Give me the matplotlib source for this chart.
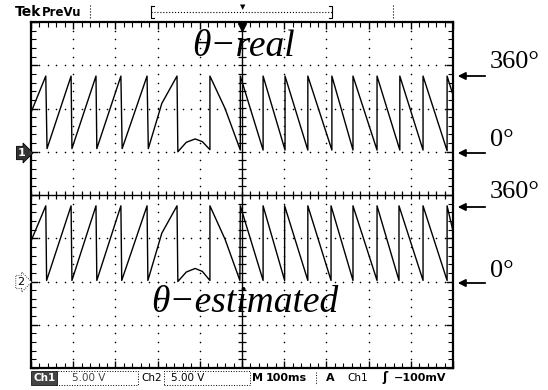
import matplotlib.pyplot as plt
import numpy as np

# time in ms (100 ms/div), phase angle in degrees
ch1_t = [0, 35, 38, 95, 97, 154, 156, 213, 216, 275, 278, 310, 346, 348, 368, 389, 406, 424,
         424, 460, 496, 496, 550, 550, 602, 602, 656, 656, 713, 713, 763, 763, 820, 820,
         874, 874, 929, 929, 986, 986, 1000]
ch1_deg = [187, 360, 15, 360, 15, 360, 15, 360, 15, 360, 15, 230, 360, 0, 45, 61, 48, 10,
           360, 205, 8, 360, 8, 360, 8, 360, 8, 360, 8, 360, 8, 360, 8, 360,
           8, 360, 8, 360, 5, 360, 270]

ch2_t = [0, 35, 37, 95, 97, 154, 156, 213, 215, 275, 277, 310, 346, 348, 368, 389, 406, 424,
         424, 460, 495, 496, 550, 550, 601, 601, 656, 656, 711, 711, 763, 763, 820, 820,
         872, 872, 929, 929, 986, 986, 1000]
ch2_deg = [192, 360, 5, 360, 5, 360, 5, 360, 5, 360, 5, 230, 360, 0, 45, 62, 48, 5,
           360, 200, 5, 360, 5, 360, 5, 360, 5, 360, 5, 360, 5, 360, 5, 360,
           5, 360, 5, 360, 5, 360, 240]

ch1_zero = 1.0    # divisions
ch2_zero = -2.0
deg_span = 1.75   # divisions for 360 deg

W, H = 548, 390
fig = plt.figure(figsize=(W / 100, H / 100), dpi=100)
fig.patch.set_facecolor('white')

def fx(px):
    return px / W

def fy(py):
    return 1 - py / H

ax = fig.add_axes([fx(31), fy(368), (453 - 31) / W, (368 - 22) / H])
ax.set_xlim(0, 1000)
ax.set_ylim(-4, 4)

# graticule
for s in ax.spines.values():
    s.set_linewidth(1.6)
ax.set_xticks(np.arange(0, 1001, 100))
ax.set_xticks(np.arange(0, 1001, 20), minor=True)
ax.set_yticks(np.arange(-4, 4.01, 1))
ax.set_yticks(np.arange(-4, 4.01, 0.2), minor=True)
ax.tick_params(which='both', direction='in', top=True, right=True,
               labelbottom=False, labelleft=False)
ax.tick_params(which='major', length=5, width=1)
ax.tick_params(which='minor', length=3.5, width=0.8)

dot_y = np.arange(-4, 4.01, 0.2)
dot_x = np.arange(0, 1001, 20)
for gx in range(100, 1000, 100):
    if gx == 500:
        continue
    ax.scatter(np.full(dot_y.size, gx), dot_y, s=1.3, c='black', lw=0)
for gy in [-3, -2, -1, 1, 2, 3]:
    ax.scatter(dot_x, np.full(dot_x.size, gy), s=1.3, c='black', lw=0)

ax.axhline(0, color='black', lw=1)
ax.axvline(500, color='black', lw=1)
ax.plot(dot_x, np.zeros(dot_x.size), ls='none', marker='|', ms=6, mew=0.9, color='black')
ax.plot(np.full(dot_y.size, 500), dot_y, ls='none', marker='_', ms=6, mew=0.9, color='black')

# waveforms
y1 = ch1_zero + np.array(ch1_deg) / 360 * deg_span
y2 = ch2_zero + np.array(ch2_deg) / 360 * deg_span
ax.plot(ch1_t, y1, color='black', lw=1.0)
ax.plot(ch2_t, y2, color='black', lw=1.0)

# trigger marker
ax.plot([500], [3.88], marker='v', ms=6, color='black', clip_on=False)

serif = 'Liberation Serif'
fig.text(fx(243), fy(47), 'θ−real', family=serif, style='italic', fontsize=27,
         ha='center', va='center')
fig.text(fx(245), fy(303), 'θ−estimated', family=serif, style='italic', fontsize=27,
         ha='center', va='center')

# right side labels and arrows
labels = [('360°', 62, 76), ('0°', 140, 153), ('360°', 192, 207), ('0°', 271, 283)]
for txt, ty, ay in labels:
    fig.text(fx(490), fy(ty), txt, family=serif, fontsize=19, ha='left', va='center')
    ax.annotate('', xy=(fx(455), fy(ay)), xytext=(fx(488), fy(ay)),
                xycoords='figure fraction', textcoords='figure fraction',
                arrowprops=dict(arrowstyle='-|>', color='black', lw=1.3,
                                mutation_scale=11))

# channel markers
fig.text(fx(22), fy(153), '1', fontsize=8, fontweight='bold', color='white',
         ha='center', va='center',
         bbox=dict(boxstyle='rarrow,pad=0.15', fc='#333333', ec='black', lw=0.6))
fig.text(fx(21), fy(282), '2', fontsize=8, color='black', ha='center', va='center',
         bbox=dict(boxstyle='rarrow,pad=0.15', fc='white', ec='black', lw=0.6, ls=':'))

# top bar
fig.text(fx(15), fy(12), 'Tek', fontsize=10, fontweight='bold', ha='left', va='center')
fig.text(fx(42), fy(12), 'PreVu', fontsize=8.5, fontweight='bold', ha='left', va='center')
fig.add_artist(plt.Line2D([fx(90), fx(90)], [fy(5), fy(19)], color='black', lw=0.8, ls=':'))
fig.add_artist(plt.Line2D([fx(393), fx(393)], [fy(5), fy(19)], color='black', lw=0.8, ls=':'))
fig.add_artist(plt.Line2D([fx(151), fx(332)], [fy(12), fy(12)], color='black', lw=0.8, ls=':'))
fig.add_artist(plt.Line2D([fx(151), fx(151), fx(154)], [fy(6), fy(18), fy(18)], color='black', lw=0.8))
fig.add_artist(plt.Line2D([fx(151), fx(154)], [fy(6), fy(6)], color='black', lw=0.8))
fig.add_artist(plt.Line2D([fx(329), fx(332), fx(332), fx(329)], [fy(6), fy(6), fy(18), fy(18)],
                          color='black', lw=0.8))
fig.text(fx(243), fy(7), '▼', fontsize=5, ha='center', va='center')

# status bar
sy = fy(378)
fig.text(fx(33), sy, 'Ch1', fontsize=7.5, color='white', fontweight='bold', ha='left', va='center',
         bbox=dict(boxstyle='square,pad=0.15', fc='#444444', ec='black', lw=0.5))
fig.text(fx(72), sy, '5.00 V', fontsize=7.5, color='#444444', ha='left', va='center')
fig.add_artist(plt.Rectangle((fx(56), fy(385)), (138 - 56) / W, 14 / H, fill=False,
                             ls=':', lw=0.7, ec='black'))
fig.text(fx(141), sy, 'Ch2', fontsize=7.5, ha='left', va='center')
fig.text(fx(171), sy, '5.00 V', fontsize=7.5, ha='left', va='center')
fig.add_artist(plt.Rectangle((fx(164), fy(385)), (250 - 164) / W, 14 / H, fill=False,
                             ls=':', lw=0.7, ec='black'))
fig.text(fx(252), sy, 'M', fontsize=8, fontweight='bold', ha='left', va='center')
fig.text(fx(266), sy, '100ms', fontsize=8, fontweight='bold', ha='left', va='center')
fig.add_artist(plt.Line2D([fx(316), fx(316)], [fy(372), fy(385)], color='black', lw=0.7, ls=':'))
fig.text(fx(326), sy, 'A', fontsize=8, fontweight='bold', ha='left', va='center')
fig.text(fx(347), sy, 'Ch1', fontsize=7.5, ha='left', va='center')
fig.text(fx(382), sy, 'ʃ', fontsize=9, fontweight='bold', ha='left', va='center')
fig.text(fx(394), sy, '−100mV', fontsize=8, fontweight='bold', ha='left', va='center')

fig.savefig('out.png', dpi=100)
